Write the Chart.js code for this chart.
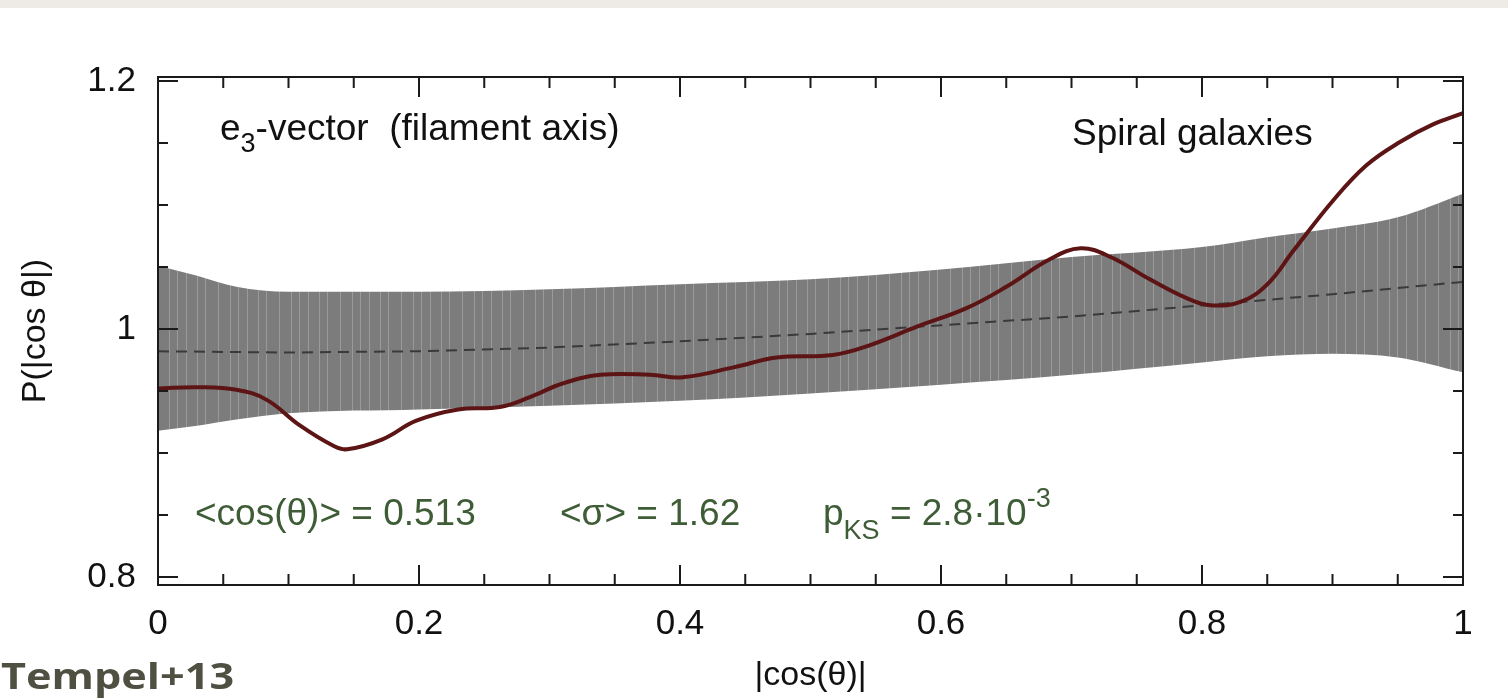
<!DOCTYPE html>
<html>
<head>
<meta charset="utf-8">
<script src="https://cdn.jsdelivr.net/npm/chart.js@4.4.1/dist/chart.umd.min.js"></script>
<style>
  html, body { margin: 0; padding: 0; background: #fff; }
  #wrap { position: relative; width: 1508px; height: 700px; }
  #strip { position: absolute; left: 0; top: 0; width: 1508px; height: 8px; background: #eeebe6; }
</style>
</head>
<body>
<div id="wrap">
  <canvas id="chart" width="1508" height="700"></canvas>
  <div id="strip"></div>
</div>
<script>
// values
const bandX = [0, 0.03, 0.06, 0.1, 0.2, 0.3, 0.4, 0.5, 0.6, 0.7, 0.8, 0.85, 0.9, 0.95, 1.0];
const bandUpper = [1.051, 1.043, 1.034, 1.030, 1.030, 1.032, 1.036, 1.040, 1.048, 1.058, 1.066, 1.074, 1.081, 1.090, 1.109];
const bandLower = [0.918, 0.922, 0.927, 0.932, 0.935, 0.938, 0.942, 0.948, 0.955, 0.963, 0.973, 0.978, 0.980, 0.977, 0.965];

const medianX = [0, 0.1, 0.2, 0.3, 0.4, 0.5, 0.6, 0.7, 0.8, 0.9, 1.0];
const medianY = [0.982, 0.981, 0.982, 0.985, 0.990, 0.996, 1.003, 1.010, 1.019, 1.028, 1.038];

const spiralX = [0, 0.03, 0.06, 0.083, 0.109, 0.134, 0.145, 0.172, 0.198, 0.23, 0.262, 0.285, 0.31, 0.339,
  0.377, 0.402, 0.441, 0.474, 0.517, 0.543, 0.582, 0.62, 0.65, 0.683, 0.707, 0.73, 0.76, 0.79, 0.808,
  0.83, 0.85, 0.87, 0.9, 0.926, 0.952, 0.977, 1.0];
const spiralY = [0.952, 0.953, 0.951, 0.943, 0.922, 0.906, 0.903, 0.911, 0.926, 0.935, 0.937, 0.945, 0.956, 0.963,
  0.963, 0.961, 0.969, 0.977, 0.979, 0.986, 1.002, 1.017, 1.034, 1.056, 1.065, 1.058, 1.040, 1.024, 1.019,
  1.022, 1.036, 1.063, 1.103, 1.132, 1.151, 1.165, 1.174];

const xTickLabels = [0, 0.2, 0.4, 0.6, 0.8, 1];
const yTickLabels = [0.8, 1, 1.2];
const minorStep = 0.05;

const FONT = '"Liberation Sans", Arial, sans-serif';
const GREEN = '#3e5c35';

const pts = (xs, ys) => xs.map((x, i) => ({ x: x, y: ys[i] }));

function bandPattern() {
  const c = document.createElement('canvas');
  c.width = 61; c.height = 4;
  const g = c.getContext('2d');
  g.fillStyle = '#7c7c7c';
  g.fillRect(0, 0, 61, 4);
  g.fillStyle = '#9a9a9a';
  [3, 14, 22, 35, 47, 55].forEach(x => g.fillRect(x, 0, 1, 4));
  return g.createPattern(c, 'repeat');
}

// box frame with gnuplot-style inward ticks
const frame = {
  id: 'frame',
  afterDatasetsDraw(chart) {
    const { ctx, chartArea: a, scales: { x, y } } = chart;
    const isMajor = (list, v) => list.some(t => Math.abs(t - v) < 1e-6);
    ctx.save();
    ctx.strokeStyle = '#1a1a1a';
    ctx.lineWidth = 2;
    ctx.strokeRect(a.left, a.top, a.right - a.left, a.bottom - a.top);
    ctx.beginPath();
    for (let i = 0; i <= Math.round(1 / minorStep); i++) {
      const v = i * minorStep;
      const px = x.getPixelForValue(v);
      const len = isMajor(xTickLabels, v) ? 20 : 11;
      ctx.moveTo(px, a.bottom); ctx.lineTo(px, a.bottom - len);
      ctx.moveTo(px, a.top); ctx.lineTo(px, a.top + len);
    }
    for (let i = 0; i <= Math.round(0.4 / minorStep); i++) {
      const v = +(0.8 + i * minorStep).toFixed(2);
      const py = y.getPixelForValue(v);
      const len = isMajor(yTickLabels, v) ? 20 : 10;
      ctx.moveTo(a.left, py); ctx.lineTo(a.left + len, py);
      ctx.moveTo(a.right, py); ctx.lineTo(a.right - len, py);
    }
    ctx.stroke();
    ctx.restore();
  }
};

function drawParts(ctx, x, y, parts) {
  let cx = x;
  parts.forEach(([t, size, dy]) => {
    ctx.font = size + 'px ' + FONT;
    ctx.fillText(t, cx, y + dy);
    cx += ctx.measureText(t).width;
  });
}

const notes = {
  id: 'notes',
  afterDraw(chart) {
    const ctx = chart.ctx;
    ctx.save();
    ctx.textBaseline = 'alphabetic';
    ctx.textAlign = 'left';
    ctx.fillStyle = '#111';
    drawParts(ctx, 220, 140, [['e', 37, 0], ['3', 27, 12], ['-vector  (filament axis)', 37, 0]]);
    drawParts(ctx, 1072, 145, [['Spiral galaxies', 37, 0]]);

    ctx.fillStyle = GREEN;
    drawParts(ctx, 195, 525, [['<cos(\u03b8)> = 0.513', 37, 0]]);
    drawParts(ctx, 560, 525, [['<\u03c3> = 1.62', 37, 0]]);
    drawParts(ctx, 823, 525, [['p', 37, 0], ['KS', 27, 14], [' = 2.8\u00b710', 37, 0], ['-3', 27, -18]]);

    ctx.fillStyle = '#4f4f42';
    ctx.font = 'bold 36px "Open Sans", sans-serif';
    ctx.translate(1, 689);
    ctx.scale(1.2, 1);
    ctx.fillText('Tempel+13', 0, 0);
    ctx.restore();
  }
};

new Chart(document.getElementById('chart'), {
  type: 'line',
  data: {
    datasets: [
      {
        label: 'Spiral galaxies',
        data: pts(spiralX, spiralY),
        borderColor: '#5c1414',
        borderWidth: 4,
        pointRadius: 0,
        tension: 0.4,
        fill: false,
        order: 0
      },
      {
        label: 'random',
        data: pts(medianX, medianY),
        borderColor: '#3a3a3a',
        borderWidth: 2,
        borderDash: [11, 7],
        pointRadius: 0,
        tension: 0,
        fill: false,
        order: 1
      },
      {
        label: 'upper',
        data: pts(bandX, bandUpper),
        borderWidth: 0,
        borderColor: 'rgba(0,0,0,0)',
        backgroundColor: bandPattern(),
        pointRadius: 0,
        cubicInterpolationMode: 'monotone',
        fill: '+1',
        order: 2
      },
      {
        label: 'lower',
        data: pts(bandX, bandLower),
        borderWidth: 0,
        borderColor: 'rgba(0,0,0,0)',
        pointRadius: 0,
        cubicInterpolationMode: 'monotone',
        fill: false,
        order: 3
      }
    ]
  },
  options: {
    responsive: false,
    animation: false,
    devicePixelRatio: 1,
    layout: { padding: { top: 77, right: 45, left: 0, bottom: 0 } },
    plugins: { legend: { display: false }, tooltip: { enabled: false } },
    scales: {
      x: {
        type: 'linear',
        min: 0,
        max: 1,
        grid: { display: false, drawTicks: false },
        border: { display: false },
        afterBuildTicks: s => { s.ticks = xTickLabels.map(v => ({ value: v })); },
        afterFit: s => { s.height = 115; },
        ticks: {
          autoSkip: false,
          maxRotation: 0,
          padding: 18,
          color: '#111',
          font: { family: FONT, size: 35 },
          callback: v => String(+(+v).toFixed(2))
        },
        title: {
          display: true,
          text: '|cos(\u03b8)|',
          color: '#111',
          font: { family: FONT, size: 34 },
          padding: { top: 0, bottom: 4 }
        }
      },
      y: {
        type: 'linear',
        min: 0.7935,
        max: 1.2032,
        grid: { display: false, drawTicks: false },
        border: { display: false },
        afterBuildTicks: s => { s.ticks = yTickLabels.map(v => ({ value: v })); },
        afterFit: s => { s.width = 158; },
        ticks: {
          padding: 22,
          color: '#111',
          font: { family: FONT, size: 35 },
          callback: v => String(+(+v).toFixed(2))
        },
        title: {
          display: true,
          text: 'P(|cos \u03b8|)',
          color: '#111',
          font: { family: FONT, size: 34 },
          padding: { top: 15, bottom: 0 }
        }
      }
    }
  },
  plugins: [frame, notes]
});
</script>
</body>
</html>
